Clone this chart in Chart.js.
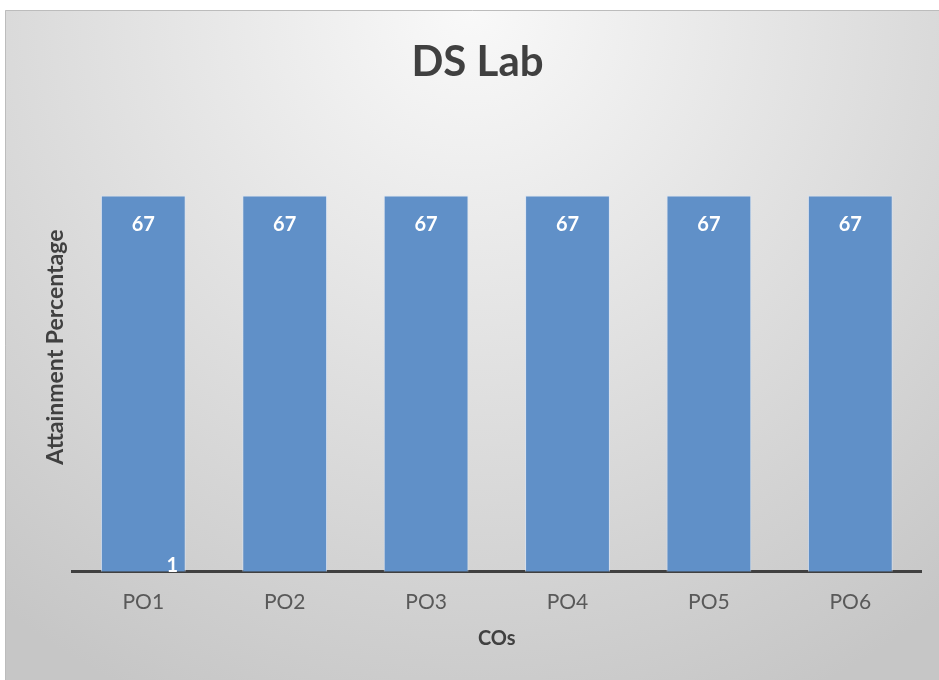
<!DOCTYPE html>
<html>
<head>
<meta charset="utf-8">
<script src="https://cdn.jsdelivr.net/npm/chart.js@4.4.0/dist/chart.umd.min.js"></script>
<style>
  html, body { margin: 0; padding: 0; background: #ffffff; }
  #wrap { width: 939px; height: 680px; }
</style>
</head>
<body>
<div id="wrap"><canvas id="grafica"></canvas></div>
<script>
// datos de la grafica
const categorias = ['PO1', 'PO2', 'PO3', 'PO4', 'PO5', 'PO6'];
const valores = [67, 67, 67, 67, 67, 67];
const tituloGrafica = 'DS Lab';
const tituloEjeX = 'COs';
const tituloEjeY = 'Attainment Percentage';
const etiquetaSuelta = '1'; // etiqueta blanca que aparece abajo de PO1

const fuente = 'Lato, "Open Sans", sans-serif';

// fondo con degradado tipo Excel
const fondoPlugin = {
    id: 'fondo',
    beforeDraw(chart) {
        const ctx = chart.ctx;
        const w = chart.width, h = chart.height;
        ctx.save();
        ctx.fillStyle = '#ffffff';
        ctx.fillRect(0, 0, w, h);
        const g = ctx.createRadialGradient(470, 10, 0, 470, 10, 760);
        g.addColorStop(0, '#f9f9f9');
        g.addColorStop(1, '#c6c6c6');
        ctx.fillStyle = g;
        ctx.fillRect(5, 10, w - 5, h - 10);
        ctx.strokeStyle = '#bcbcbc';
        ctx.lineWidth = 1;
        ctx.beginPath();
        ctx.moveTo(5.5, h);
        ctx.lineTo(5.5, 10.5);
        ctx.lineTo(w, 10.5);
        ctx.stroke();
        ctx.restore();
    }
};

// etiquetas de datos dentro de las barras
const etiquetasPlugin = {
    id: 'etiquetas',
    afterDatasetsDraw(chart) {
        const ctx = chart.ctx;
        const meta = chart.getDatasetMeta(0);
        ctx.save();
        ctx.fillStyle = '#ffffff';
        ctx.font = 'bold 20px ' + fuente;
        ctx.textAlign = 'center';
        ctx.textBaseline = 'middle';
        meta.data.forEach((barra, i) => {
            ctx.fillText(String(valores[i]), barra.x, barra.y + 29);
        });
        // la etiqueta "1" suelta
        const x0 = chart.scales.x.getPixelForValue(0);
        ctx.fillText(etiquetaSuelta, x0 + 29, chart.chartArea.bottom - 6);
        ctx.restore();
    }
};

const ctx = document.getElementById('grafica').getContext('2d');
const grafica = new Chart(ctx, {
    type: 'bar',
    data: {
        labels: categorias,
        datasets: [{
            label: 'Attainment',
            data: valores,
            backgroundColor: '#6090c8',
            borderColor: 'rgba(215, 228, 245, 0.8)',
            borderWidth: 1,
            categoryPercentage: 1.0,
            barPercentage: 0.6
        }]
    },
    options: {
        responsive: true,
        maintainAspectRatio: false,
        animation: false,
        layout: { padding: { left: 34, right: 18, top: 10, bottom: 20 } },
        plugins: {
            legend: { display: false },
            tooltip: { enabled: false },
            title: {
                display: true,
                text: tituloGrafica,
                color: '#404040',
                font: { family: fuente, size: 42, weight: 'bold' },
                padding: { top: 27, bottom: 35 }
            }
        },
        scales: {
            x: {
                grid: { display: false, drawTicks: false },
                border: { display: true, color: '#404040', width: 3 },
                ticks: {
                    color: '#595959',
                    font: { family: fuente, size: 21 },
                    padding: 18
                },
                title: {
                    display: true,
                    text: tituloEjeX,
                    color: '#404040',
                    font: { family: fuente, size: 20, weight: 'bold' },
                    padding: { top: -6, bottom: 9 }
                }
            },
            y: {
                min: 0,
                max: 80,
                grid: { display: false, drawTicks: false },
                border: { display: false },
                ticks: { display: false },
                title: {
                    display: true,
                    text: tituloEjeY,
                    color: '#404040',
                    font: { family: fuente, size: 23, weight: 'bold' },
                    padding: { top: 8, bottom: 3 }
                }
            }
        }
    },
    plugins: [fondoPlugin, etiquetasPlugin]
});
</script>
</body>
</html>
